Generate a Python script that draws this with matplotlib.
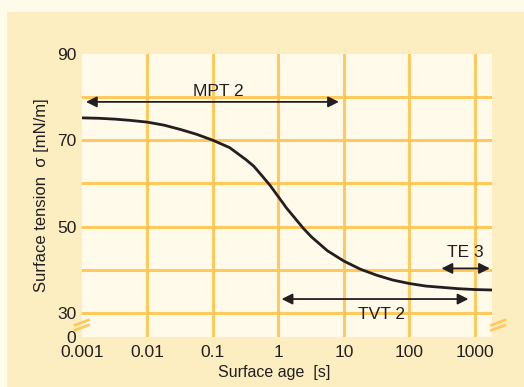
"""Surface tension vs surface age chart."""

import matplotlib
matplotlib.use('Agg')
import matplotlib.pyplot as plt
from matplotlib.patches import Rectangle

# Данные кривой
surface_age = [0.001, 0.0018, 0.0032, 0.0056, 0.01, 0.018, 0.032, 0.056, 0.1,
               0.18, 0.32, 0.42, 0.56, 0.75, 1, 1.33, 1.8, 2.37, 3.2, 5.6, 10,
               18, 32, 56, 100, 180, 320, 560, 1000, 1800]
surface_tension = [75.2, 75.1, 74.9, 74.6, 74.2, 73.5, 72.5, 71.4, 70.0,
                   68.3, 65.5, 64.0, 61.8, 59.5, 56.9, 54.3, 51.9, 49.7, 47.6, 44.4, 42.0,
                   40.1, 38.7, 37.6, 36.8, 36.2, 35.9, 35.6, 35.4, 35.3]

# Диапазоны методов: (название, начало, конец, y стрелки, x текста, y текста)
ranges = [
    ('MPT 2', 0.00115, 8.4, 78.9, 0.12, 81.3),
    ('TVT 2', 1.12, 800, 33.2, 37.6, 29.7),
    ('TE 3', 310, 1700, 40.3, 725, 44.0),
]

x_ticks = [0.001, 0.01, 0.1, 1, 10, 100, 1000]
x_tick_labels = ['0.001', '0.01', '0.1', '1', '10', '100', '1000']
y_bottom = 24.4
y_ticks = [y_bottom, 30, 50, 70, 90]
y_tick_labels = ['0', '30', '50', '70', '90']
x_grid = [0.01, 0.1, 1, 10, 100, 1000]
y_grid = [30, 40, 50, 60, 70, 80]

OUTER = '#fffbeb'
PANEL = '#fdeec2'
AREA = '#fffae9'
GRID = '#ffc95e'
INK = '#231f20'

plt.rcParams['font.family'] = ['Liberation Sans', 'DejaVu Sans']

fig = plt.figure(figsize=(5.24, 3.87), dpi=100)
fig.patch.set_facecolor(OUTER)
fig.patches.append(Rectangle((7 / 524, 0), 1, 1 - 12 / 387, transform=fig.transFigure,
                             facecolor=PANEL, edgecolor='none', zorder=-10))

ax = fig.add_axes([82 / 524, 1 - 337 / 387, 409.5 / 524, 283 / 387])
ax.set_facecolor(AREA)
ax.set_xscale('log')
ax.set_xlim(0.001, 1800)
ax.set_ylim(y_bottom, 90)

for v in x_grid:
    ax.axvline(v, color=GRID, lw=2.2, zorder=1)
for v in y_grid:
    ax.axhline(v, color=GRID, lw=2.2, zorder=1)

ax.plot(surface_age, surface_tension, color=INK, lw=2.0, zorder=3,
        solid_joinstyle='round')

for name, x0, x1, ya, xt, yt in ranges:
    ax.annotate('', xy=(x0, ya), xytext=(x1, ya),
                arrowprops=dict(arrowstyle='<|-|>', color=INK, lw=1.3,
                                mutation_scale=16, shrinkA=0, shrinkB=0),
                zorder=4)
    ax.text(xt, yt, name, ha='center', va='center', fontsize=12.5, color=INK, zorder=5)

ax.set_xticks(x_ticks)
ax.set_xticklabels(x_tick_labels)
ax.minorticks_off()
ax.set_yticks(y_ticks)
ax.set_yticklabels(y_tick_labels)
ax.tick_params(length=0, labelsize=12.5, colors=INK)
ax.tick_params(axis='x', pad=6)
ax.tick_params(axis='y', pad=4)
for s in ax.spines.values():
    s.set_visible(False)

ax.set_xlabel('Surface age  [s]', fontsize=11.5, color=INK, labelpad=3, x=0.47)
ax.set_ylabel('Surface tension  σ [mN/m]', fontsize=12, color=INK, labelpad=6)

# Знаки разрыва оси
for x0 in (-0.017, 1.0):
    for dy in (0.0, -0.018):
        ax.plot([x0, x0 + 0.033], [0.042 + dy, 0.06 + dy], transform=ax.transAxes,
                color=GRID, lw=2.0, clip_on=False, zorder=6)

fig.savefig('out.png', dpi=100, facecolor=fig.get_facecolor())
